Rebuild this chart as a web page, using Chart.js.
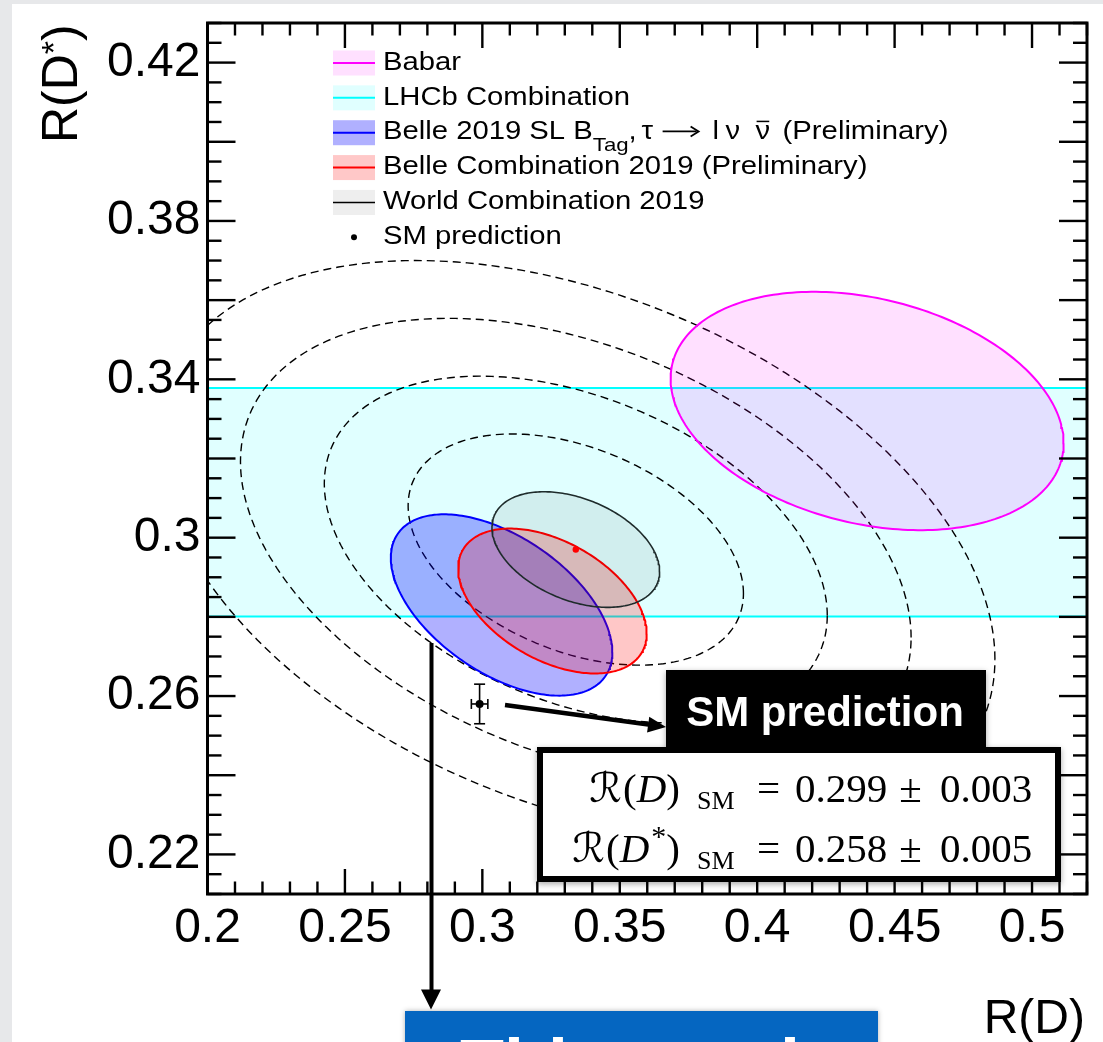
<!DOCTYPE html>
<html>
<head>
<meta charset="utf-8">
<script src="https://cdn.jsdelivr.net/npm/chart.js@4.4.1/dist/chart.umd.min.js"></script>
<style>
  html, body { margin: 0; padding: 0; background: #e7e8ea; }
  canvas { display: block; }
</style>
</head>
<body>
<canvas id="chart" width="1103" height="1042"></canvas>
<script>
// axis ranges and tick labels
const xRange = [0.2, 0.52];   // R(D)
const yRange = [0.21, 0.43];  // R(D*)
const xTickValues = [0.2, 0.25, 0.3, 0.35, 0.4, 0.45, 0.5];
const xTickLabels = ['0.2', '0.25', '0.3', '0.35', '0.4', '0.45', '0.5'];
const yTickValues = [0.22, 0.26, 0.3, 0.34, 0.38, 0.42];
const yTickLabels = ['0.22', '0.26', '0.3', '0.34', '0.38', '0.42'];

// 1 sigma ellipses : centre, sigma, correlation
const ellipseNames = ['Babar', 'Belle 2019 SL', 'Belle Combination 2019', 'World Combination 2019'];
const rdCentre    = [0.440, 0.307, 0.3255, 0.334];
const rdsCentre   = [0.332, 0.283, 0.284, 0.297];
const rdSigma     = [0.0715, 0.0403, 0.0343, 0.0305];
const rdsSigma    = [0.0301, 0.0229, 0.0183, 0.0146];
const correlation = [-0.27, -0.52, -0.45, -0.38];

// LHCb combination, R(D*) band
const lhcbBand = [0.2801, 0.3378];

// dashed contours around the world combination (n sigma)
const worldContours = [2, 3, 4, 5];

// SM prediction
const smRD = 0.299, smRDErr = 0.003;
const smRDs = 0.258, smRDsErr = 0.005;

// colours
const lineColors = ['#ff00ff', '#0000ff', '#ff0000', '#1e2b2b'];
const fillColors = ['rgba(255,0,255,0.12)', 'rgba(0,0,255,0.31)', 'rgba(255,0,0,0.22)', 'rgba(0,0,0,0.065)'];

const SANS = '"Liberation Sans", Arial, Helvetica, sans-serif';
const SERIF = '"Liberation Serif", "DejaVu Serif", serif';

// points of an n sigma ellipse for measurement i
function ellipsePoints(i, n) {
  const pts = [];
  const steps = 240;
  const r = correlation[i];
  for (let j = 0; j <= steps; j++) {
    const t = 2 * Math.PI * j / steps;
    pts.push({
      x: rdCentre[i] + n * rdSigma[i] * Math.cos(t),
      y: rdsCentre[i] + n * rdsSigma[i] * (r * Math.cos(t) + Math.sqrt(1 - r * r) * Math.sin(t))
    });
  }
  return pts;
}

const datasets = [];
// band: upper edge carries the fill down to the lower edge
datasets.push({
  label: 'LHCb low',
  data: [{ x: xRange[0], y: lhcbBand[0] }, { x: xRange[1], y: lhcbBand[0] }],
  borderColor: '#00ffff', borderWidth: 2, fill: false, order: 19
});
datasets.push({
  label: 'LHCb Combination',
  data: [{ x: xRange[0], y: lhcbBand[1] }, { x: xRange[1], y: lhcbBand[1] }],
  borderColor: '#00ffff', borderWidth: 2, fill: '-1', backgroundColor: '#e0ffff', order: 20
});
worldContours.forEach(n => {
  datasets.push({
    label: n + ' sigma',
    data: ellipsePoints(3, n),
    borderColor: '#000', borderWidth: 1.4, borderDash: [8, 5], fill: false, order: 15
  });
});
ellipseNames.forEach((name, i) => {
  datasets.push({
    label: name,
    data: ellipsePoints(i, 1),
    borderColor: lineColors[i], borderWidth: i === 3 ? 1.6 : 2,
    backgroundColor: fillColors[i], fill: 'shape', order: 12 - i
  });
});
datasets.push({
  label: 'World centre',
  data: [{ x: rdCentre[3], y: rdsCentre[3] }],
  showLine: false, pointRadius: 3.2, pointBackgroundColor: '#ff0000', pointBorderWidth: 0, order: 2
});
datasets.push({
  label: 'SM prediction',
  data: [{ x: smRD, y: smRDs }],
  showLine: false, pointRadius: 4, pointBackgroundColor: '#000', pointBorderWidth: 0, order: 1
});

function line(ctx, x1, y1, x2, y2) {
  ctx.beginPath(); ctx.moveTo(x1, y1); ctx.lineTo(x2, y2); ctx.stroke();
}

function arrowHead(ctx, tipX, tipY, fromX, fromY, len, half) {
  const a = Math.atan2(tipY - fromY, tipX - fromX);
  ctx.beginPath();
  ctx.moveTo(tipX, tipY);
  ctx.lineTo(tipX - len * Math.cos(a) + half * Math.sin(a), tipY - len * Math.sin(a) - half * Math.cos(a));
  ctx.lineTo(tipX - len * Math.cos(a) - half * Math.sin(a), tipY - len * Math.sin(a) + half * Math.cos(a));
  ctx.closePath();
  ctx.fill();
}

// legend text is a bit wider than plain Helvetica
function wideText(ctx, str, x, y, size, sx) {
  ctx.save();
  ctx.translate(x, y);
  ctx.scale(sx, 1);
  ctx.font = size + 'px ' + SANS;
  ctx.fillText(str, 0, 0);
  const w = ctx.measureText(str).width * sx;
  ctx.restore();
  return w;
}

const background = {
  id: 'background',
  beforeDraw(chart) {
    const ctx = chart.ctx;
    ctx.save();
    ctx.fillStyle = '#e7e8ea';
    ctx.fillRect(0, 0, chart.width, chart.height);
    ctx.fillStyle = '#fff';
    ctx.fillRect(12, 4, chart.width - 12, chart.height - 4);
    ctx.restore();
  }
};

// ROOT style frame with ticks inside on all four sides
const frame = {
  id: 'frame',
  afterDatasetsDraw(chart) {
    const { ctx, chartArea: a, scales: { x, y } } = chart;
    ctx.save();
    ctx.strokeStyle = '#000';
    ctx.lineWidth = 2.4;
    for (let n = 20; n <= 52; n++) {
      const px = x.getPixelForValue(n / 100);
      const len = n % 5 === 0 ? 25 : 12.5;
      line(ctx, px, a.bottom, px, a.bottom - len);
      line(ctx, px, a.top, px, a.top + len);
    }
    for (let n = 42; n <= 86; n++) {
      const py = y.getPixelForValue(n * 0.005);
      const len = n % 4 === 0 ? 28 : 14;
      line(ctx, a.left, py, a.left + len, py);
      line(ctx, a.right, py, a.right - len, py);
    }
    ctx.lineWidth = 3;
    ctx.strokeRect(a.left, a.top, a.right - a.left, a.bottom - a.top);

    // SM error bars
    const cx = x.getPixelForValue(smRD), cy = y.getPixelForValue(smRDs);
    const x1 = x.getPixelForValue(smRD - smRDErr), x2 = x.getPixelForValue(smRD + smRDErr);
    const y1 = y.getPixelForValue(smRDs - smRDsErr), y2 = y.getPixelForValue(smRDs + smRDsErr);
    ctx.lineWidth = 1.6;
    line(ctx, x1, cy, x2, cy);
    line(ctx, cx, y1, cx, y2);
    line(ctx, x1, cy - 5, x1, cy + 5);
    line(ctx, x2, cy - 5, x2, cy + 5);
    line(ctx, cx - 5.5, y1, cx + 5.5, y1);
    line(ctx, cx - 5.5, y2, cx + 5.5, y2);
    ctx.restore();
  }
};

const legendBoxes = ['#ffe0ff', '#e0ffff', '#b0b0ff', '#ffc8c8', '#eeeeee'];
const legendLines = ['#ff00ff', '#00ffff', '#0000ff', '#ff0000', '#000000'];

const legend = {
  id: 'rootLegend',
  afterDatasetsDraw(chart) {
    const ctx = chart.ctx;
    const size = 25, sx = 1.17;
    ctx.save();
    ctx.fillStyle = '#000';
    ctx.textBaseline = 'alphabetic';
    for (let i = 0; i < 6; i++) {
      const yc = 63 + 34.86 * i;
      if (i < 5) {
        ctx.fillStyle = legendBoxes[i];
        ctx.fillRect(333, yc - 12.5, 42, 25);
        ctx.strokeStyle = legendLines[i];
        ctx.lineWidth = i === 4 ? 1.5 : 2;
        line(ctx, 333, yc, 375, yc);
      } else {
        ctx.fillStyle = '#000';
        ctx.beginPath(); ctx.arc(354, yc, 3, 0, 2 * Math.PI); ctx.fill();
      }
      ctx.fillStyle = '#000';
      ctx.strokeStyle = '#000';
      const by = yc + 6.7;
      if (i === 2) {
        let px = 383;
        px += wideText(ctx, 'Belle 2019 SL B', px, by, size, sx);
        px += wideText(ctx, 'Tag', px, by + 12, 19, sx);
        // greek part, spaced like the ROOT symbol font
        wideText(ctx, ',', px, by, size, sx);
        wideText(ctx, '\u03c4', px + 13, by, size, sx);
        ctx.lineWidth = 1.8;
        line(ctx, px + 34, by - 8, px + 68, by - 8);
        ctx.beginPath();
        ctx.moveTo(px + 62, by - 13); ctx.lineTo(px + 70, by - 8); ctx.lineTo(px + 62, by - 3);
        ctx.stroke();
        wideText(ctx, 'l', px + 84, by, size, sx);
        wideText(ctx, '\u03bd', px + 97, by, size, sx);
        const nuW = wideText(ctx, '\u03bd', px + 127, by, size, sx);
        ctx.lineWidth = 1.5;
        line(ctx, px + 128, by - 18, px + 126 + nuW, by - 18);
        wideText(ctx, '(Preliminary)', px + 154, by, size, sx);
      } else {
        const txt = ['Babar', 'LHCb Combination', '', 'Belle Combination 2019 (Preliminary)',
          'World Combination 2019', 'SM prediction'][i];
        wideText(ctx, txt, 383, by, size, sx);
      }
    }
    ctx.restore();
  }
};

function mathLine(ctx, baseY, star, value, err) {
  const roman = '41px ' + SERIF;
  const italic = 'italic 41px ' + SERIF;
  const script = '41px "DejaVu Serif", "DejaVu Sans", serif';
  const pieces = [['\u211b', script, 0], ['(', roman, 0], ['D', italic, 0]];
  if (star) pieces.push(['*', '30px ' + SERIF, -16]);
  pieces.push([')', roman, 0]);
  let total = 0;
  pieces.forEach(p => { ctx.font = p[1]; p.push(ctx.measureText(p[0]).width); total += p[3]; });
  let px = 679 - total - (star ? 2 : 0);
  pieces.forEach((p, k) => {
    ctx.font = p[1];
    ctx.fillText(p[0], px, baseY + p[2]);
    px += p[3] + (k === 0 ? 1 : 0) + (p[0] === 'D' && star ? 2 : 0);
  });
  ctx.font = '26px ' + SERIF;
  ctx.fillText('SM', 697, baseY + 7);
  ctx.font = roman;
  ctx.textAlign = 'center';
  ctx.fillText('=', 768.5, baseY);
  ctx.fillText('\u00b1', 910.5, baseY);
  ctx.textAlign = 'left';
  ctx.fillText(value, 795, baseY);
  ctx.fillText(err, 940, baseY);
}

const annotations = {
  id: 'annotations',
  afterDraw(chart) {
    const ctx = chart.ctx;
    ctx.save();
    ctx.fillStyle = '#000';
    ctx.strokeStyle = '#000';

    // axis titles
    ctx.textBaseline = 'alphabetic';
    ctx.textAlign = 'right';
    ctx.font = '48px ' + SANS;
    ctx.fillText('R(D)', 1085, 1033);
    ctx.save();
    ctx.translate(77, 143);
    ctx.rotate(-Math.PI / 2);
    ctx.textAlign = 'left';
    ctx.font = '50px ' + SANS;
    let w = ctx.measureText('R(D').width;
    ctx.fillText('R(D', 0, 0);
    ctx.font = '34px ' + SANS;
    ctx.fillText('*', w, -12);
    w += ctx.measureText('*').width;
    ctx.font = '50px ' + SANS;
    ctx.fillText(')', w, 0);
    ctx.restore();

    // arrow to the SM prediction label
    ctx.lineWidth = 4.5;
    line(ctx, 505, 705, 652, 725);
    arrowHead(ctx, 666, 727, 505, 705, 18, 8);

    // "SM prediction" label
    ctx.save();
    ctx.shadowColor = 'rgba(0,0,0,0.35)';
    ctx.shadowBlur = 6;
    ctx.shadowOffsetY = 2;
    ctx.fillStyle = '#000';
    ctx.fillRect(666, 670, 320, 78);
    ctx.fillStyle = '#fff';
    ctx.fillRect(537, 747, 524, 135);
    ctx.restore();
    ctx.lineWidth = 6;
    ctx.strokeRect(540, 750, 518, 129);
    ctx.fillStyle = '#fff';
    ctx.font = 'bold 42px ' + SANS;
    ctx.textAlign = 'center';
    ctx.fillText('SM prediction', 825, 725.5);

    ctx.fillStyle = '#000';
    ctx.textAlign = 'left';
    mathLine(ctx, 801.5, false, '0.299', '0.003');
    mathLine(ctx, 861.5, true, '0.258', '0.005');

    // arrow from the Belle result to the box below
    ctx.lineWidth = 4;
    line(ctx, 431.5, 643, 431.5, 992);
    arrowHead(ctx, 431, 1009.5, 431, 643, 20, 10);

    ctx.save();
    ctx.shadowColor = 'rgba(0,0,0,0.3)';
    ctx.shadowBlur = 5;
    ctx.fillStyle = '#0566c1';
    ctx.fillRect(405, 1011, 473, 60);
    ctx.restore();
    ctx.fillStyle = '#fff';
    ctx.font = 'bold 72px ' + SANS;
    ctx.fillText('This result', 460, 1089.5);
    ctx.restore();
  }
};

const tickFont = { family: SANS, size: 48 };

// keep the frame where the plot has it, whatever the label overflow
function noPadding(s) {
  s.paddingTop = 0; s.paddingBottom = 0; s.paddingLeft = 0; s.paddingRight = 0;
}

new Chart(document.getElementById('chart'), {
  type: 'line',
  data: { datasets: datasets },
  options: {
    responsive: false,
    animation: false,
    events: [],
    elements: { point: { radius: 0, hitRadius: 0 }, line: { tension: 0 } },
    layout: { padding: { left: 0, top: 23, right: 16, bottom: 0 } },
    plugins: { legend: { display: false }, tooltip: { enabled: false } },
    scales: {
      x: {
        type: 'linear',
        min: xRange[0],
        max: xRange[1],
        afterFit: s => { s.height = 148; noPadding(s); },
        afterBuildTicks: s => { s.ticks = xTickValues.map(v => ({ value: v })); },
        grid: { display: false, drawTicks: false },
        border: { display: false },
        ticks: {
          autoSkip: false, maxRotation: 0, padding: 6, color: '#000', font: tickFont,
          callback: (v, i) => xTickLabels[i]
        }
      },
      y: {
        type: 'linear',
        min: yRange[0],
        max: yRange[1],
        afterFit: s => { s.width = 207.5; noPadding(s); },
        afterBuildTicks: s => { s.ticks = yTickValues.map(v => ({ value: v })); },
        grid: { display: false, drawTicks: false },
        border: { display: false },
        ticks: {
          autoSkip: false, padding: 7, color: '#000', font: tickFont,
          callback: (v, i) => yTickLabels[i]
        }
      }
    }
  },
  plugins: [background, frame, legend, annotations]
});
</script>
</body>
</html>
